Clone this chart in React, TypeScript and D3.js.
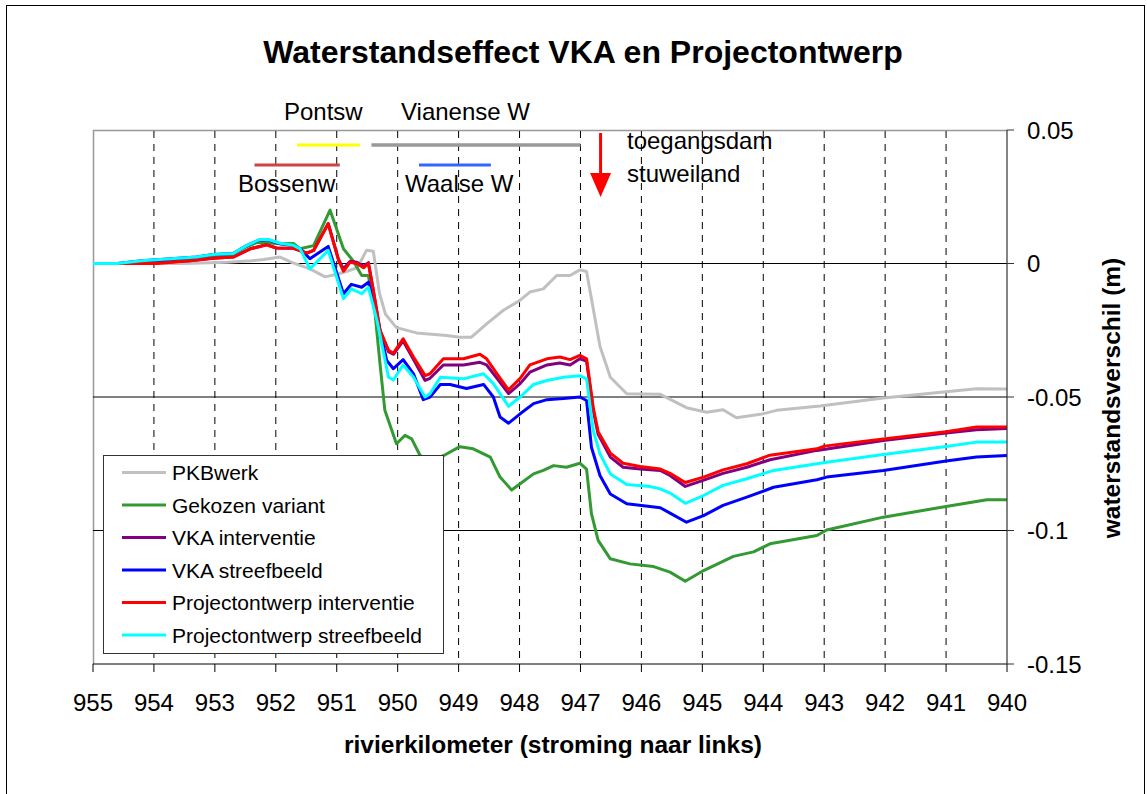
import React from 'react';
import * as d3 from 'd3';

// rivierkilometer, waterstandsverschil (m)
const pkbWerk: [number, number][] = [
  [955, 0], [953.5, 0], [952.8, 0.0005], [952.4, 0.001], [952.2, 0.0015], [951.93, 0.0024], [951.75, 0.0005],
  [951.44, -0.002], [951.19, -0.005], [951.0, -0.004], [950.84, -0.003], [950.66, -0.0015], [950.51, 0.005],
  [950.4, 0.0046], [950.3, -0.011], [950.2, -0.019], [950.02, -0.024], [949.69, -0.026], [949.2, -0.027],
  [948.98, -0.0276], [948.79, -0.0276], [948.54, -0.0226], [948.27, -0.0176], [948.0, -0.0139], [947.83, -0.0107],
  [947.61, -0.0095], [947.39, -0.0045], [947.17, -0.0045], [947.01, -0.0024], [946.9, -0.003], [946.68, -0.031],
  [946.51, -0.0426], [946.24, -0.0488], [945.69, -0.049], [945.26, -0.054], [944.93, -0.0557], [944.66, -0.0548],
  [944.44, -0.0578], [944.05, -0.0565], [943.78, -0.055], [943.07, -0.0534], [942.03, -0.0504], [941.0, -0.048],
  [940.5, -0.0469], [940, -0.047],
];

const gekozenVariant: [number, number][] = [
  [955, 0], [954.5, 0], [954.0, 0.0005], [953.5, 0.0015], [953.0, 0.003], [952.7, 0.0035], [952.5, 0.006],
  [952.3, 0.008], [951.93, 0.0074], [951.71, 0.0075], [951.6, 0.0055], [951.38, 0.0067], [951.11, 0.02],
  [950.89, 0.0055], [950.73, 0.001], [950.59, -0.0045], [950.48, -0.0045], [950.37, -0.0189], [950.29, -0.0375],
  [950.21, -0.055], [950.02, -0.0675], [949.88, -0.0644], [949.77, -0.0657], [949.63, -0.072], [949.45, -0.0735],
  [949.25, -0.072], [948.98, -0.0686], [948.76, -0.0694], [948.48, -0.0725], [948.32, -0.08], [948.13, -0.0848],
  [947.99, -0.0825], [947.77, -0.0788], [947.61, -0.0775], [947.44, -0.0757], [947.23, -0.0763], [947.01, -0.0748],
  [946.9, -0.077], [946.82, -0.0937], [946.71, -0.1037], [946.51, -0.1106], [946.19, -0.1125], [945.8, -0.1135],
  [945.53, -0.1156], [945.28, -0.119], [944.98, -0.115], [944.49, -0.1097], [944.16, -0.108], [943.89, -0.105],
  [943.12, -0.1019], [942.96, -0.0998], [942.03, -0.095], [941.0, -0.091], [940.33, -0.0885], [940, -0.0885],
];

const vkaInterventie: [number, number][] = [
  [955, 0], [954.2, 0], [953.41, 0.001], [953.03, 0.002], [952.7, 0.0024], [952.42, 0.0055], [952.15, 0.007],
  [951.99, 0.0058], [951.71, 0.0057], [951.49, 0.0039], [951.38, 0.0049], [951.14, 0.015], [950.97, 0.0015],
  [950.89, -0.002], [950.78, 0.0008], [950.67, 0.0005], [950.56, -0.001], [950.48, 0.0003], [950.4, -0.01],
  [950.29, -0.025], [950.15, -0.033], [950.07, -0.034], [949.91, -0.029], [949.74, -0.036], [949.55, -0.0438],
  [949.47, -0.043], [949.25, -0.038], [948.92, -0.038], [948.65, -0.037], [948.54, -0.038], [948.37, -0.043],
  [948.18, -0.0487], [947.99, -0.045], [947.83, -0.0407], [947.55, -0.038], [947.34, -0.0373], [947.17, -0.038],
  [947.01, -0.0357], [946.9, -0.0365], [946.79, -0.055], [946.71, -0.064], [946.51, -0.0725], [946.3, -0.0763],
  [946.02, -0.077], [945.69, -0.0775], [945.53, -0.0794], [945.28, -0.0835], [945.0, -0.0813], [944.66, -0.0786],
  [944.27, -0.0763], [943.89, -0.0735], [943.12, -0.07], [942.03, -0.0663], [941.0, -0.0635], [940.5, -0.0623],
  [940, -0.0618],
];

const vkaStreefbeeld: [number, number][] = [
  [955, 0], [954.6, 0], [954.2, 0.001], [953.3, 0.0024], [953.03, 0.0034], [952.7, 0.0037], [952.48, 0.0067],
  [952.26, 0.0089], [952.12, 0.0088], [951.93, 0.0074], [951.71, 0.0067], [951.6, 0.0055], [951.44, 0.0018],
  [951.14, 0.0064], [950.89, -0.0113], [950.76, -0.0078], [950.59, -0.0089], [950.48, -0.007], [950.34, -0.02],
  [950.18, -0.0363], [950.07, -0.0394], [949.91, -0.036], [949.74, -0.0413], [949.58, -0.051], [949.47, -0.05],
  [949.3, -0.0453], [949.14, -0.0453], [948.87, -0.0468], [948.59, -0.0453], [948.43, -0.05], [948.32, -0.0575],
  [948.18, -0.0598], [947.99, -0.0563], [947.77, -0.0525], [947.55, -0.051], [947.28, -0.0506], [947.01, -0.05],
  [946.9, -0.0513], [946.82, -0.0688], [946.68, -0.0794], [946.51, -0.0863], [946.24, -0.09], [945.86, -0.091],
  [945.69, -0.0915], [945.53, -0.0935], [945.26, -0.0969], [944.98, -0.0944], [944.66, -0.0906], [944.27, -0.0875],
  [943.83, -0.0838], [943.12, -0.081], [942.96, -0.08], [942.03, -0.0775], [941.0, -0.074], [940.5, -0.0725],
  [940, -0.0719],
];

const projInterventie: [number, number][] = [
  [955, 0], [954.2, 0], [953.95, 0], [953.41, 0.001], [953.03, 0.002], [952.7, 0.0024], [952.42, 0.0055],
  [952.15, 0.007], [951.99, 0.0058], [951.71, 0.0057], [951.49, 0.0039], [951.38, 0.0049], [951.14, 0.0149],
  [950.97, 0.0012], [950.89, -0.0029], [950.78, 0.0005], [950.67, 0], [950.56, -0.0016], [950.48, 0],
  [950.4, -0.01], [950.29, -0.025], [950.15, -0.0325], [950.07, -0.0336], [949.91, -0.0282], [949.74, -0.035],
  [949.55, -0.042], [949.47, -0.0413], [949.25, -0.0357], [948.92, -0.0357], [948.65, -0.034], [948.54, -0.0357],
  [948.37, -0.0413], [948.18, -0.0473], [947.99, -0.043], [947.83, -0.038], [947.55, -0.0357], [947.34, -0.035],
  [947.17, -0.036], [947.01, -0.0344], [946.9, -0.0357], [946.79, -0.054], [946.71, -0.063], [946.51, -0.071],
  [946.3, -0.0748], [946.02, -0.076], [945.69, -0.077], [945.53, -0.0786], [945.28, -0.082], [944.98, -0.08],
  [944.66, -0.0773], [944.27, -0.075], [943.89, -0.0718], [943.12, -0.0694], [943.0, -0.0684], [942.03, -0.0657],
  [941.0, -0.063], [940.5, -0.0612], [940, -0.0612],
];

const projStreefbeeld: [number, number][] = [
  [955, 0], [954.6, 0], [954.2, 0.001], [953.3, 0.0024], [953.03, 0.0034], [952.7, 0.0037], [952.48, 0.0067],
  [952.26, 0.009], [952.12, 0.009], [951.93, 0.0076], [951.71, 0.0068], [951.6, 0.0055], [951.44, -0.002],
  [951.14, 0.0049], [950.89, -0.0132], [950.76, -0.0095], [950.59, -0.0113], [950.48, -0.0089], [950.34, -0.0213],
  [950.15, -0.0426], [950.07, -0.0436], [949.91, -0.038], [949.74, -0.0426], [949.55, -0.05], [949.47, -0.0488],
  [949.3, -0.0426], [948.92, -0.0432], [948.59, -0.0413], [948.43, -0.045], [948.18, -0.0535], [947.99, -0.05],
  [947.77, -0.0453], [947.55, -0.0438], [947.28, -0.0426], [947.01, -0.042], [946.9, -0.0432], [946.79, -0.0625],
  [946.68, -0.0713], [946.51, -0.0788], [946.24, -0.0828], [945.86, -0.0835], [945.69, -0.0844], [945.53, -0.086],
  [945.28, -0.0898], [944.98, -0.0869], [944.66, -0.0831], [944.27, -0.0806], [943.83, -0.0775], [942.96, -0.0744],
  [942.03, -0.0715], [941.0, -0.0685], [940.5, -0.0669], [940, -0.0669],
];

const seriesNames = ['PKBwerk', 'Gekozen variant', 'VKA interventie', 'VKA streefbeeld', 'Projectontwerp interventie', 'Projectontwerp streefbeeld'];
const seriesColors = ['#c0c0c0', '#339933', '#800080', '#0000ff', '#ff0000', '#00ffff'];
const seriesData = [pkbWerk, gekozenVariant, vkaInterventie, vkaStreefbeeld, projInterventie, projStreefbeeld];

const xTicks = [955, 954, 953, 952, 951, 950, 949, 948, 947, 946, 945, 944, 943, 942, 941, 940];
const yTicks = [0.05, 0, -0.05, -0.1, -0.15];
const yTickLabels = ['0.05', '0', '-0.05', '-0.1', '-0.15'];

// kunstwerken boven de grafiek: [van km, tot km]
const structures = [
  { name: 'Pontsw', from: 951.65, to: 950.62, row: 0, color: '#ffff00' },
  { name: 'Vianense W', from: 950.43, to: 947.0, row: 0, color: '#999999' },
  { name: 'Bossenw', from: 952.35, to: 950.95, row: 1, color: '#cc4444' },
  { name: 'Waalse W', from: 949.65, to: 948.47, row: 1, color: '#3366ff' },
];
const damKm = 946.67;

export default function App() {
  const W = 1147, H = 794;
  const x = d3.scaleLinear().domain([955, 940]).range([93, 1007]);
  const y = d3.scaleLinear().domain([0.05, -0.15]).range([130, 664]);
  const line = d3.line<[number, number]>().x(d => x(d[0])).y(d => y(d[1]));
  const font = 'Arial, "Liberation Sans", sans-serif';
  const legendX = 103, legendY = 455;

  return (
    <svg width={W} height={H} style={{ position: 'absolute', left: 0, top: 0, background: '#fff' }} fontFamily={font}>
      <rect x={6.5} y={5.5} width={1138} height={800} fill="#fff" stroke="#000" strokeWidth={1} />
      <text x={583} y={63} textAnchor="middle" fontSize={32} fontWeight="bold">Waterstandseffect VKA en Projectontwerp</text>

      {/* plot frame + grid */}
      <line x1={93} x2={1007} y1={130.5} y2={130.5} stroke="#999" strokeWidth={1.5} />
      <line x1={93.5} x2={93.5} y1={130} y2={664} stroke="#999" strokeWidth={1.5} />
      {xTicks.slice(1, -1).map(k => (
        <line key={k} x1={x(k)} x2={x(k)} y1={131} y2={664} stroke="#000" strokeWidth={1} strokeDasharray="7,6" />
      ))}
      {yTicks.slice(1, -1).map(v => (
        <line key={v} x1={93} x2={1007} y1={y(v)} y2={y(v)} stroke="#000" strokeWidth={1} />
      ))}

      {/* series */}
      {seriesData.map((s, i) => (
        <path key={i} d={line(s) || ''} fill="none" stroke={seriesColors[i]} strokeWidth={3} strokeLinejoin="round" />
      ))}

      {/* axes */}
      <line x1={93} x2={1007} y1={664} y2={664} stroke="#000" strokeWidth={1} />
      {xTicks.map(k => (
        <g key={k}>
          <line x1={x(k)} x2={x(k)} y1={664} y2={672} stroke="#000" />
          <text x={x(k)} y={711} textAnchor="middle" fontSize={24}>{k}</text>
        </g>
      ))}
      <line x1={1007} x2={1007} y1={130} y2={664} stroke="#333" strokeWidth={1.2} />
      {yTicks.map((v, i) => (
        <g key={v}>
          <line x1={1007} x2={1014} y1={y(v)} y2={y(v)} stroke="#333" />
          <text x={1027} y={y(v) + 8.5} fontSize={24}>{yTickLabels[i]}</text>
        </g>
      ))}
      <text x={553} y={753} textAnchor="middle" fontSize={24.5} fontWeight="bold">rivierkilometer (stroming naar links)</text>
      <text transform={`translate(1120, 398) rotate(-90)`} textAnchor="middle" fontSize={24.5} fontWeight="bold">waterstandsverschil (m)</text>

      {/* annotations */}
      {structures.map(s => (
        <g key={s.name}>
          <line x1={x(s.from)} x2={x(s.to)} y1={145 + s.row * 20} y2={145 + s.row * 20} stroke={s.color} strokeWidth={s.color === '#999999' ? 3.5 : 3} />
        </g>
      ))}
      <text x={284} y={120} fontSize={24}>Pontsw</text>
      <text x={401} y={120} fontSize={24}>Vianense W</text>
      <text x={238} y={192} fontSize={24}>Bossenw</text>
      <text x={405} y={192} fontSize={24}>Waalse W</text>
      <line x1={x(damKm)} x2={x(damKm)} y1={133} y2={176} stroke="#ff0000" strokeWidth={3} />
      <path d={`M${x(damKm) - 10.5},173 L${x(damKm) + 10.5},173 L${x(damKm)},197 Z`} fill="#ff0000" />
      <text x={627} y={149} fontSize={24}>toegangsdam</text>
      <text x={627} y={182} fontSize={24}>stuweiland</text>

      {/* legend */}
      <rect x={legendX + 0.5} y={legendY + 0.5} width={340} height={198} fill="#fff" stroke="#333" strokeWidth={1} />
      {seriesNames.map((n, i) => (
        <g key={n} transform={`translate(0, ${legendY + 17.5 + i * 32.5})`}>
          <line x1={122} x2={166} y1={0} y2={0} stroke={seriesColors[i]} strokeWidth={3} />
          <text x={172} y={7.5} fontSize={21}>{n}</text>
        </g>
      ))}
    </svg>
  );
}
